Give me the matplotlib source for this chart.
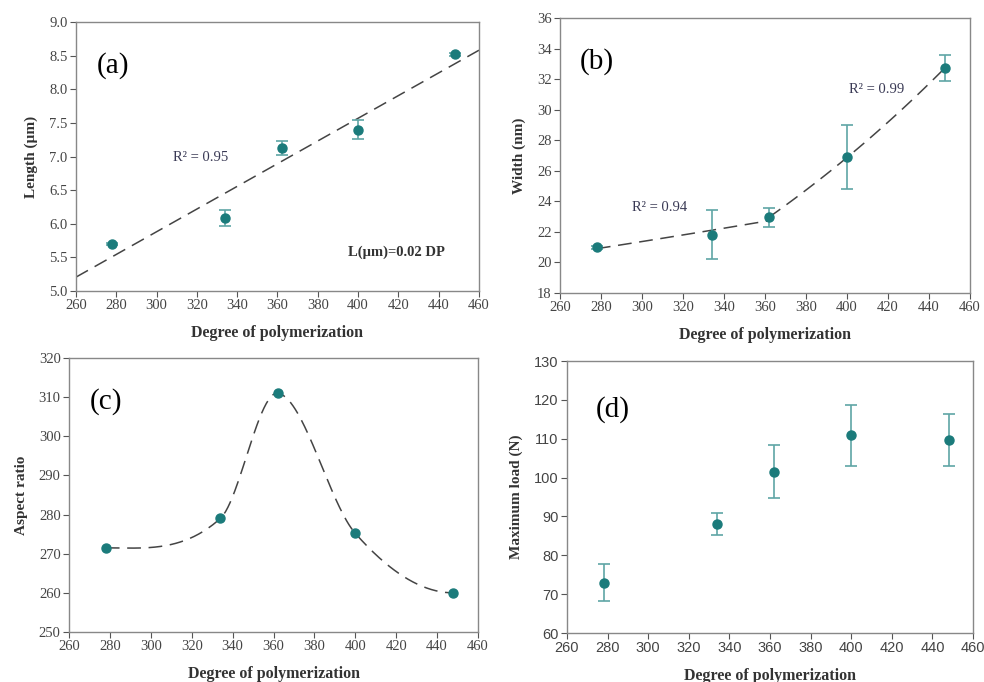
import numpy as np
import matplotlib.pyplot as plt

# Degree of polymerization (shared x)
dp = [278, 334, 362, 400, 448]

# (a) length
length = [5.70, 6.09, 7.13, 7.40, 8.52]
length_err = [0.02, 0.12, 0.10, 0.14, 0.02]

# (b) width
width = [21.0, 21.8, 22.95, 26.9, 32.75]
width_err = [0.1, 1.6, 0.6, 2.1, 0.85]

# (c) aspect ratio
aspect = [271.5, 279.0, 311.0, 275.2, 260.0]

# (d) maximum load, asymmetric errors
load = [73.0, 88.0, 101.5, 111.0, 109.7]
load_lo = [4.7, 2.8, 6.7, 8.0, 6.7]
load_hi = [4.8, 3.0, 6.8, 7.7, 6.7]

MARK = "#1b7b7b"
ERR = "#5fa5a5"
DASH = (0, (9, 5))
SERIF = ["Liberation Serif", "DejaVu Serif"]
TICK_C = "#444444"


def smooth_curve(x, y, xs):
    # cubic Hermite: centred-difference slopes inside, flat at both ends
    x = np.asarray(x, float)
    y = np.asarray(y, float)
    h = np.diff(x)
    m = np.zeros_like(y)
    m[1:-1] = (y[2:] - y[:-2]) / (x[2:] - x[:-2])
    idx = np.clip(np.searchsorted(x, xs) - 1, 0, len(x) - 2)
    t = (xs - x[idx]) / h[idx]
    h00 = 2 * t**3 - 3 * t**2 + 1
    h10 = t**3 - 2 * t**2 + t
    h01 = -2 * t**3 + 3 * t**2
    h11 = t**3 - t**2
    return (h00 * y[idx] + h10 * h[idx] * m[idx]
            + h01 * y[idx + 1] + h11 * h[idx] * m[idx + 1])


def style(ax, ylim, yticks, ylabel, sans_ticks=False, fmt="{:.0f}"):
    ax.set_xlim(260, 460)
    ax.set_xticks(np.arange(260, 461, 20))
    ax.set_ylim(*ylim)
    ax.set_yticks(yticks)
    fam = ["Liberation Sans", "DejaVu Sans"] if sans_ticks else SERIF
    ax.set_xticklabels([f"{v}" for v in np.arange(260, 461, 20)], family=fam)
    ax.set_yticklabels([fmt.format(v) for v in yticks], family=fam)
    for s in ax.spines.values():
        s.set_color("#888888")
        s.set_linewidth(1.0)
    ax.tick_params(direction="out", length=4, width=0.8, color="#555555",
                   labelsize=10.5, labelcolor=TICK_C, pad=2)
    ax.set_xlabel("Degree of polymerization", family=SERIF, fontweight="bold",
                  fontsize=11.5, color="#333333", labelpad=9)
    ax.set_ylabel(ylabel, family=SERIF, fontweight="bold", fontsize=11,
                  color="#333333", labelpad=8)


fig = plt.figure(figsize=(9.84, 6.82), dpi=100)

# (a)
ax = fig.add_axes([0.0772, 0.5733, 0.4096, 0.3944])
k, b = np.polyfit(dp, length, 1)
xl = np.array([260, 460])
ax.plot(xl, k * xl + b, color="#444444", lw=1.1, linestyle=DASH)
ax.errorbar(dp, length, yerr=length_err, fmt="o", color=MARK, ecolor=ERR,
            ms=6.5, capsize=4.5, elinewidth=1.2, capthick=1.2)
style(ax, (5.0, 9.0), np.arange(5.0, 9.01, 0.5), "Length (µm)", fmt="{:.1f}")
ax.text(0.052, 0.84, "(a)", transform=ax.transAxes, family=SERIF, fontsize=21, va="center")
ax.text(308, 6.98, "R² = 0.95", family=SERIF, fontsize=10.5, color="#3a3a55", va="center")
ax.text(395, 5.58, "L(µm)=0.02 DP", family=SERIF, fontsize=10.5, fontweight="bold",
        color="#333333", va="center")

# (b)
ax = fig.add_axes([0.5691, 0.5704, 0.4167, 0.4032])
x1 = np.linspace(dp[0], dp[2], 50)
p1 = np.polyfit(dp[:3], np.log(width[:3]), 1)
ax.plot(x1, np.exp(np.polyval(p1, x1)), color="#444444", lw=1.1, linestyle=DASH)
x2 = np.linspace(dp[2], dp[4], 50)
p2 = np.polyfit(dp[2:], np.log(width[2:]), 1)
ax.plot(x2, np.exp(np.polyval(p2, x2)), color="#444444", lw=1.1, linestyle=DASH)
ax.errorbar(dp, width, yerr=width_err, fmt="o", color=MARK, ecolor=ERR,
            ms=6.5, capsize=4.5, elinewidth=1.2, capthick=1.2)
style(ax, (18, 36), np.arange(18, 37, 2), "Width (nm)")
ax.text(0.048, 0.84, "(b)", transform=ax.transAxes, family=SERIF, fontsize=21, va="center")
ax.text(295, 23.6, "R² = 0.94", family=SERIF, fontsize=10.5, color="#3a3a55", va="center")
ax.text(401, 31.3, "R² = 0.99", family=SERIF, fontsize=10.5, color="#3a3a55", va="center")

# (c)
ax = fig.add_axes([0.0701, 0.0733, 0.4157, 0.4018])
xs = np.linspace(dp[0], dp[-1], 300)
ax.plot(xs, smooth_curve(dp, aspect, xs), color="#444444", lw=1.1, linestyle=DASH)
ax.plot(dp, aspect, "o", color=MARK, ms=6.5)
style(ax, (250, 320), np.arange(250, 321, 10), "Aspect ratio")
ax.text(0.052, 0.84, "(c)", transform=ax.transAxes, family=SERIF, fontsize=21, va="center")

# (d)
ax = fig.add_axes([0.5762, 0.0718, 0.4126, 0.3988])
ax.errorbar(dp, load, yerr=[load_lo, load_hi], fmt="o", color=MARK, ecolor=ERR,
            ms=6.5, capsize=4.5, elinewidth=1.2, capthick=1.2)
style(ax, (60, 130), np.arange(60, 131, 10), "Maximum load (N)", sans_ticks=True)
ax.text(0.072, 0.82, "(d)", transform=ax.transAxes, family=SERIF, fontsize=21, va="center")

fig.savefig("out.png", dpi=100)
